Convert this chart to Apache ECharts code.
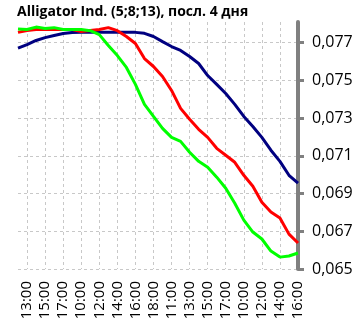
<!DOCTYPE html>
<html>
<head>
<meta charset="utf-8">
<script src="https://cdn.jsdelivr.net/npm/echarts@6/dist/echarts.min.js"></script>
<style>
  html, body { margin: 0; padding: 0; background: #fff; }
  #chart { width: 364px; height: 327px; }
</style>
</head>
<body>
<div id="chart"></div>
<script>
// hourly points over 4 trading days
const hours = [
  '12:00', '13:00', '14:00', '15:00', '16:00', '17:00', '18:00',
  '10:00', '11:00', '12:00', '13:00', '14:00', '15:00', '16:00', '17:00', '18:00',
  '10:00', '11:00', '12:00', '13:00', '14:00', '15:00', '16:00', '17:00', '18:00',
  '10:00', '11:00', '12:00', '13:00', '14:00', '15:00', '16:00'
]
// jaw (13)
const jaw = [
  0.07671, 0.0769, 0.07712, 0.07727, 0.07738, 0.07749, 0.07754, 0.07755,
  0.07755, 0.07755, 0.07755, 0.07755, 0.07755, 0.07755, 0.0775, 0.07733,
  0.07706, 0.0768, 0.07659, 0.07627, 0.0759, 0.07526, 0.07479, 0.07431,
  0.07373, 0.07309, 0.07256, 0.07198, 0.0713, 0.07071, 0.06997, 0.06955
]
// teeth (8)
const teeth = [
  0.07755, 0.07765, 0.0777, 0.0777, 0.0777, 0.0777, 0.0777, 0.0776,
  0.07765, 0.0777, 0.0778, 0.07764, 0.07733, 0.07696, 0.07616, 0.07574,
  0.07521, 0.07447, 0.07352, 0.07294, 0.07241, 0.07198, 0.0714, 0.07103,
  0.07066, 0.06997, 0.06939, 0.06854, 0.06802, 0.0677, 0.06685, 0.06638
]
// lips (5)
const lips = [
  0.07773, 0.0777, 0.07783, 0.07775, 0.0778, 0.0777, 0.0777, 0.0777,
  0.07764, 0.07743, 0.07685, 0.07632, 0.07569, 0.07479, 0.07373, 0.07309,
  0.07246, 0.07198, 0.07177, 0.07119, 0.07071, 0.0704, 0.06987, 0.06928,
  0.06849, 0.06759, 0.06696, 0.06659, 0.06595, 0.06563, 0.06569, 0.06585
]
const yTicks = [0.065, 0.067, 0.069, 0.071, 0.073, 0.075, 0.077]

const chart = echarts.init(document.getElementById('chart'))
const oddIdx = (idx) => idx % 2 === 1
const font = '"Open Sans", sans-serif'

chart.setOption({
  animation: false,
  title: {
    text: 'Alligator Ind. (5;8;13), посл. 4 дня',
    left: 12, top: 0,
    textStyle: { fontFamily: font, fontSize: 14, fontWeight: 'bold', color: '#000' }
  },
  grid: { left: 18, right: 66, top: 22, bottom: 58 },
  xAxis: {
    type: 'category',
    data: hours,
    boundaryGap: false,
    axisLine: { show: false },
    axisTick: { show: false },
    axisLabel: {
      interval: oddIdx, rotate: 90, margin: 12,
      fontFamily: font, fontSize: 15, color: '#000'
    },
    splitLine: {
      show: true, interval: oddIdx,
      lineStyle: { color: '#c8c8c8', type: [3, 3], width: 1 }
    }
  },
  yAxis: {
    type: 'value',
    position: 'right',
    min: 0.065, max: 0.0781,
    axisLine: { show: true, lineStyle: { color: '#808080', width: 4 } },
    axisTick: {
      show: true, length: 6, customValues: yTicks,
      lineStyle: { color: '#808080', width: 3 }
    },
    axisLabel: {
      customValues: yTicks, margin: 14,
      fontFamily: font, fontSize: 16, color: '#000',
      formatter: (v) => v.toFixed(3).replace('.', ',')
    },
    splitLine: {
      show: true,
      lineStyle: { color: '#c8c8c8', type: [3, 3], width: 1 }
    }
  },
  series: [
    { name: 'jaw', type: 'line', data: jaw, symbol: 'none', lineStyle: { color: '#000080', width: 3 } },
    { name: 'teeth', type: 'line', data: teeth, symbol: 'none', lineStyle: { color: '#ff0000', width: 3 } },
    { name: 'lips', type: 'line', data: lips, symbol: 'none', lineStyle: { color: '#00ff00', width: 3 } }
  ]
})
</script>
</body>
</html>
